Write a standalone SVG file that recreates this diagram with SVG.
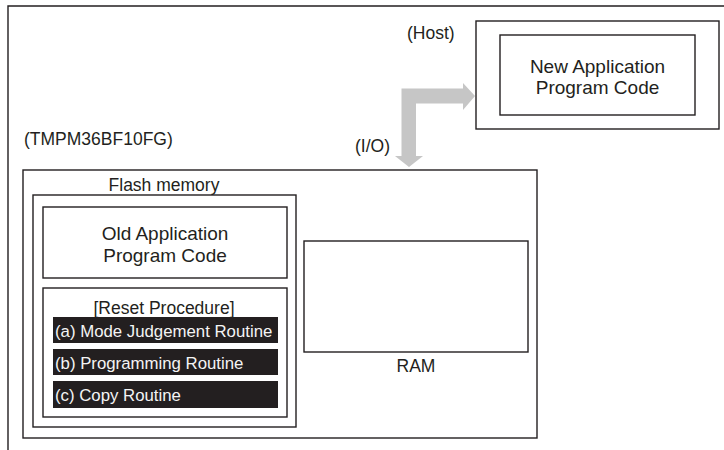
<svg xmlns="http://www.w3.org/2000/svg" width="724" height="450" viewBox="0 0 724 450">
  <style>
    .box { fill: #ffffff; stroke: #231f20; stroke-width: 1.4; }
    .bar { fill: #231f20; }
    .t { font-family: "Liberation Sans", Arial, sans-serif; fill: #231f20; }
    .lbl { font-size: 17.5px; }
    .big { font-size: 19px; }
    .bt { font-family: "Liberation Sans", Arial, sans-serif; font-size: 16.8px; fill: #f4f4f4; }
    .mid { text-anchor: middle; }
    .arrow { fill: #c6c6c6; }
  </style>
  <rect width="724" height="450" fill="#ffffff"/>
  <path d="M8,450 V6 H724" fill="none" stroke="#231f20" stroke-width="1.4"/>

  <g id="host">
    <text class="t lbl" x="407" y="39">(Host)</text>
    <rect class="box" x="476" y="21" width="243" height="108"/>
    <g id="new-code">
      <rect class="box" x="500" y="35" width="195" height="80"/>
      <text class="t big mid" x="597.5" y="73">New Application</text>
      <text class="t big mid" x="597.5" y="94">Program Code</text>
    </g>
  </g>

  <g id="chip">
    <text class="t lbl" x="24" y="145">(TMPM36BF10FG)</text>
    <rect class="box" x="23" y="170" width="514" height="268"/>
  </g>

  <g id="flash">
    <text class="t lbl mid" x="164" y="191">Flash memory</text>
    <rect class="box" x="33" y="195" width="263" height="232"/>
  </g>

  <g id="old-code">
    <rect class="box" x="43" y="207" width="244" height="71"/>
    <text class="t big mid" x="165" y="240">Old Application</text>
    <text class="t big mid" x="165" y="262">Program Code</text>
  </g>

  <g id="reset">
    <rect class="box" x="43" y="288" width="244" height="129"/>
    <text class="t lbl mid" x="164" y="314">[Reset Procedure]</text>
  </g>

  <g id="routine-a">
    <rect class="bar" x="53" y="317" width="225" height="26"/>
    <text class="bt" x="55" y="337">(a) Mode Judgement Routine</text>
  </g>
  <g id="routine-b">
    <rect class="bar" x="53" y="349" width="225" height="26"/>
    <text class="bt" x="55" y="369">(b) Programming Routine</text>
  </g>
  <g id="routine-c">
    <rect class="bar" x="53" y="381" width="225" height="27"/>
    <text class="bt" x="55" y="401">(c) Copy Routine</text>
  </g>

  <g id="ram">
    <rect class="box" x="304" y="241" width="224" height="111"/>
    <text class="t lbl mid" x="416" y="372">RAM</text>
  </g>

  <g id="connectors">
    <text class="t lbl" x="355" y="152">(I/O)</text>
    <polygon class="arrow" points="409,167 423,156 416,156 416,103.5 463,103.5 463,110 475,96 463,83 463,88.5 401.5,88.5 401.5,156 395,156"/>
  </g>
</svg>
